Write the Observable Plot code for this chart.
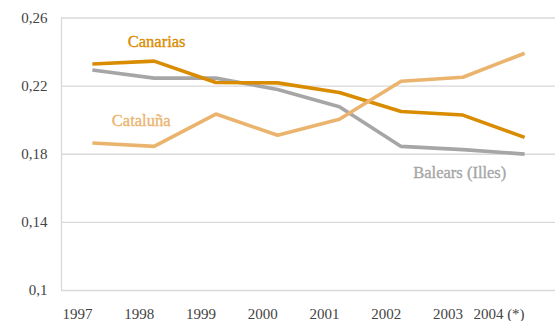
<!DOCTYPE html>
<html>
<head>
<meta charset="utf-8">
<script src="https://cdn.jsdelivr.net/npm/d3@7"></script>
<script src="https://cdn.jsdelivr.net/npm/@observablehq/plot@0.6"></script>
<style>
  html, body { margin: 0; padding: 0; background: #fff; }
  #chart svg { display: block; }
</style>
</head>
<body>
<div id="chart"></div>
<script>
// ---- data ----
const years = ["1997", "1998", "1999", "2000", "2001", "2002", "2003", "2004 (*)"];
const balears = [0.2295, 0.2247, 0.2247, 0.2180, 0.2079, 0.1846, 0.1827, 0.1801];
const canarias = [0.2330, 0.2347, 0.2221, 0.2219, 0.2163, 0.2051, 0.2030, 0.1899];
const cataluna = [0.1866, 0.1846, 0.2036, 0.1912, 0.2006, 0.2229, 0.2252, 0.2393];
const yTicks = [0.1, 0.14, 0.18, 0.22, 0.26];

const seriesNames = ["Balears (Illes)", "Canarias", "Cataluña"];
const seriesValues = [balears, canarias, cataluna];
const seriesColors = ["#a6a6a6", "#d98c00", "#ebb46e"];
// label anchor positions in data units (x: year index, y: value)
const labelX = [5.95, 1.04, 0.79];
const labelY = [0.1692, 0.2459, 0.1996];

// ---- build tables ----
const rows = [];
seriesNames.forEach((name, s) => {
  seriesValues[s].forEach((v, i) => rows.push({series: name, i, value: v}));
});
const labels = seriesNames.map((name, s) => ({name, x: labelX[s], y: labelY[s], color: seriesColors[s]}));
const fmt = d => String(d).replace(".", ",");

const chart = Plot.plot({
  width: 555,
  height: 321,
  marginLeft: 61,
  marginRight: 0,
  marginTop: 17.5,
  marginBottom: 31,
  style: {fontFamily: "'Liberation Serif', serif", background: "#fff"},
  x: {type: "linear", domain: [-0.5, years.length - 0.5], axis: null},
  y: {domain: [0.1, 0.26], axis: null},
  color: {domain: seriesNames, range: seriesColors},
  marks: [
    Plot.ruleY(yTicks, {stroke: "#d9d9d9", strokeWidth: 1.3}),
    Plot.ruleX([-0.5], {y1: 0.1, y2: 0.26, stroke: "#d9d9d9", strokeWidth: 1.3}),
    Plot.axisY({ticks: yTicks, tickFormat: fmt, tickSize: 0, tickPadding: 14, fontSize: 15, fill: "#444", stroke: "#444", strokeWidth: 0.35}),
    Plot.axisX({ticks: d3.range(years.length), tickFormat: i => years[i], tickSize: 0, tickPadding: 18, textAnchor: "end", fontSize: 15, fill: "#444", stroke: "#444", strokeWidth: 0.35}),
    Plot.line(rows, {x: "i", y: "value", z: "series", stroke: "series", strokeWidth: 3.6, strokeLinejoin: "miter", strokeLinecap: "butt"}),
    Plot.text(labels, {x: "x", y: "y", text: "name", fill: "color", stroke: "color", strokeWidth: 0.35, fontSize: 16.5})
  ]
});
document.getElementById("chart").appendChild(chart);
</script>
</body>
</html>
